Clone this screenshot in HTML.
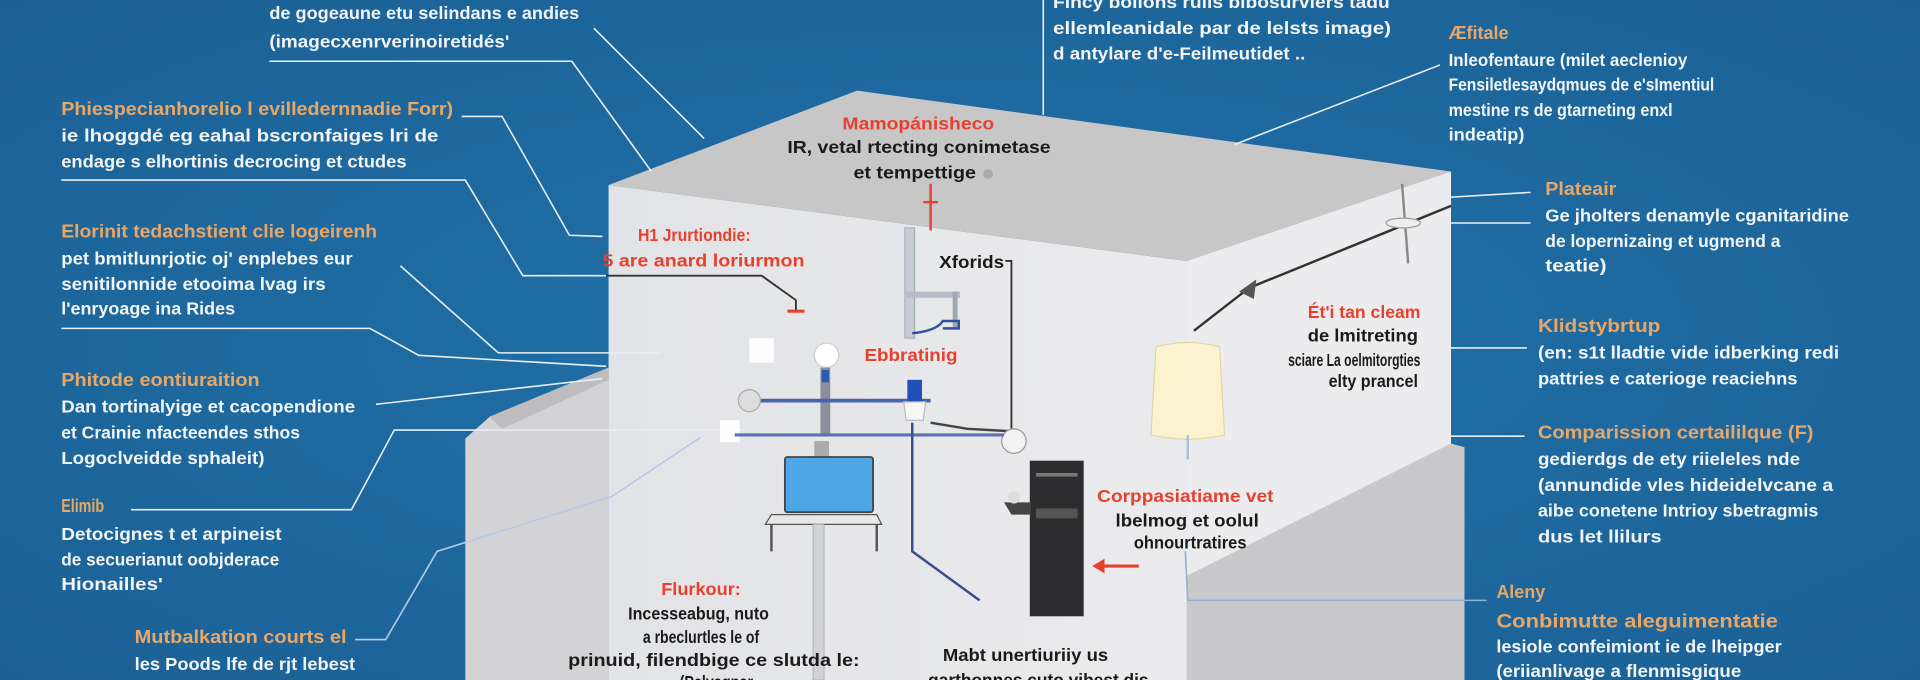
<!DOCTYPE html>
<html><head><meta charset="utf-8"><style>
html,body{margin:0;padding:0;width:1920px;height:680px;overflow:hidden;background:#1e679d}
svg{display:block}
text{font-family:"Liberation Sans",sans-serif;font-weight:bold;dominant-baseline:middle}
.w{fill:#f2f4f6;font-size:14px}
.o{fill:#e9a766;font-size:15px}
.r{fill:#e8402f;font-size:14px}
.k{fill:#1a1a1a;font-size:14px}
.l{stroke:#e8eef4;stroke-width:1.3;fill:none}
</style></head><body>
<svg width="1920" height="680" viewBox="0 0 1568 555" preserveAspectRatio="none" xmlns="http://www.w3.org/2000/svg">
<defs>
<radialGradient id="bg" cx="0.5" cy="0.5" r="0.8"><stop offset="0" stop-color="#2172aa"/><stop offset="1" stop-color="#1a5e92"/></radialGradient>
<linearGradient id="lf" x1="0" y1="0" x2="1" y2="0"><stop offset="0" stop-color="#e2e3e6"/><stop offset="1" stop-color="#ebebed"/></linearGradient>
</defs>
<rect width="1568" height="555" fill="url(#bg)"/>
<!-- box -->
<polygon points="497,151 969,213 969,555 497,555" fill="url(#lf)"/>
<polygon points="497,151 700,74 1185,140 969,213" fill="#c7c7c8"/>
<polygon points="969,213 1185,140 1185,555 969,555" fill="#ececee"/>
<polygon points="969,470 1185,362 1196,365 1196,555 969,555" fill="#c9c9cb"/>
<polygon points="380,358 400,340 497,300 497,555 380,555" fill="#d3d3d5"/>
<polygon points="400,340 497,300 497,310 410,350" fill="#bdbdbf"/>
<!-- connectors -->
<polyline class="l" points="220,50 467,50 532,140"/>
<polyline class="l" points="485,23 575,113"/>
<polyline class="l" points="377,95 410,95 465,192 492,193"/>
<polyline class="l" points="50,147 380,147 427,225 495,225"/>
<polyline points="495,225 622,225 650,245 650,253" stroke="#333" stroke-width="1.5" fill="none"/>
<line x1="643" y1="254" x2="657" y2="254" stroke="#e8402f" stroke-width="2.5"/>
<polyline class="l" points="327,217 407,288 540,288"/>
<polyline class="l" points="50,268 302,268 342,290 495,299"/>
<polyline class="l" points="307,330 492,309"/>
<polyline class="l" points="107,416 287,416 322,351 609,351"/>
<polyline points="290,522 315,522 357,450 500,405 572,357" stroke="#b8c8e8" stroke-width="1.3" fill="none"/>
<polyline class="l" points="852,0 852,94"/>
<polyline class="l" points="1176,53 1008,118"/>
<polyline class="l" points="1184,161 1250,157"/>
<polyline class="l" points="1184,182 1250,182"/>
<polyline class="l" points="1184,284 1247,284"/>
<polyline class="l" points="1184,356 1245,356"/>
<polyline points="968,450 970,490 1214,490" stroke="#8fb2d8" stroke-width="1.3" fill="none"/>
<!-- equipment -->
<line x1="760" y1="150" x2="760" y2="188" stroke="#e8402f" stroke-width="2"/>
<line x1="754" y1="165" x2="766" y2="165" stroke="#e8402f" stroke-width="2"/>
<rect x="739" y="186" width="8" height="90" fill="#c8ccd2" stroke="#9aa" stroke-width="0.8"/>
<rect x="739" y="238" width="45" height="5" fill="#b8bcc4"/>
<rect x="778" y="238" width="4" height="30" fill="#a0a8b0"/>
<path d="M745 272 Q765 270 770 262 L783 262 L783 268 L770 268" stroke="#3050a0" stroke-width="2" fill="none"/>
<polyline points="821,213 826,213 826,350" stroke="#333" stroke-width="1.5" fill="none"/>
<polyline points="760,345 790,350 826,352" stroke="#444" stroke-width="2" fill="none"/>
<circle cx="828" cy="360" r="10" fill="#f2f2f2" stroke="#999"/>
<rect x="612" y="276" width="20" height="20" fill="#fff" opacity="0.9"/>
<rect x="588" y="343" width="16" height="18" fill="#fff" opacity="0.9"/>
<circle cx="675" cy="290" r="10" fill="#fff" stroke="#ccc"/>
<rect x="670" y="300" width="8" height="55" fill="#8a9099"/>
<rect x="671" y="302" width="6" height="10" fill="#2a5ab0"/>
<line x1="608" y1="327" x2="760" y2="327" stroke="#4a66aa" stroke-width="3"/>
<line x1="600" y1="355" x2="820" y2="355" stroke="#5a72b0" stroke-width="2.5"/>
<circle cx="612" cy="327" r="9" fill="#ddd" stroke="#aaa"/>
<rect x="741" y="310" width="12" height="18" fill="#2050b8"/>
<path d="M738 328 L756 328 L754 343 L740 343 Z" fill="#f6f6f6" stroke="#bbb"/>
<polyline points="745,345 745,450 800,490" stroke="#3a4c90" stroke-width="2" fill="none"/>
<rect x="665" y="360" width="12" height="20" fill="#aaa"/>
<rect x="641" y="373" width="72" height="45" rx="2" fill="#4ea6e6" stroke="#444" stroke-width="1.5"/>
<path d="M630 420 L716 420 L720 428 L625 428 Z" fill="#e8e8e8" stroke="#555"/>
<line x1="630" y1="428" x2="630" y2="450" stroke="#555" stroke-width="2"/>
<line x1="716" y1="428" x2="716" y2="450" stroke="#555" stroke-width="2"/>
<rect x="664" y="428" width="9" height="127" fill="#d0d2d6" stroke="#aaa" stroke-width="0.6"/>
<rect x="841" y="376" width="44" height="127" fill="#2d2d2f"/>
<rect x="846" y="386" width="34" height="3" fill="#777"/>
<rect x="846" y="415" width="34" height="8" fill="#555"/>
<path d="M820 410 L842 410 L842 420 L826 420 Z" fill="#444"/>
<circle cx="828" cy="406" r="5" fill="#ddd"/>
<line x1="895" y1="462" x2="930" y2="462" stroke="#e8402f" stroke-width="2.5"/>
<polygon points="892,462 902,456 902,468" fill="#e8402f"/>
<line x1="975" y1="270" x2="1020" y2="235" stroke="#333" stroke-width="2"/>
<line x1="1020" y1="235" x2="1185" y2="168" stroke="#333" stroke-width="2"/>
<polygon points="1012,238 1026,228 1024,244" fill="#555"/>
<line x1="1145" y1="150" x2="1150" y2="215" stroke="#888" stroke-width="2"/>
<ellipse cx="1146" cy="182" rx="14" ry="4" fill="#eee" stroke="#999"/>
<path d="M944 283 Q970 276 996 283 L1000 355 Q970 362 940 355 Z" fill="#fbf3d0" stroke="#e0d6a8"/>
<line x1="970" y1="355" x2="970" y2="375" stroke="#aac0d8" stroke-width="2"/>
<!-- left text -->
<text class="w" x="220" y="12" textLength="253" lengthAdjust="spacingAndGlyphs">de gogeaune etu selindans e andies</text>
<text class="w" x="220" y="35" textLength="196" lengthAdjust="spacingAndGlyphs">(imagecxenrverinoiretidés'</text>
<text class="o" x="50" y="90" textLength="320" lengthAdjust="spacingAndGlyphs">Phiespecianhorelio l evilledernnadie Forr)</text>
<text class="w" x="50" y="112" textLength="308" lengthAdjust="spacingAndGlyphs">ie lhoggdé eg eahal bscronfaiges lri de</text>
<text class="w" x="50" y="133" textLength="282" lengthAdjust="spacingAndGlyphs">endage s elhortinis decrocing et ctudes</text>
<text class="o" x="50" y="190" textLength="258" lengthAdjust="spacingAndGlyphs">Elorinit tedachstient clie logeirenh</text>
<text class="w" x="50" y="212" textLength="238" lengthAdjust="spacingAndGlyphs">pet bmitlunrjotic oj' enplebes eur</text>
<text class="w" x="50" y="233" textLength="216" lengthAdjust="spacingAndGlyphs">senitilonnide etooima lvag irs</text>
<text class="w" x="50" y="253" textLength="142" lengthAdjust="spacingAndGlyphs">l'enryoage ina Rides</text>
<text class="o" x="50" y="311" textLength="162" lengthAdjust="spacingAndGlyphs">Phitode eontiuraition</text>
<text class="w" x="50" y="333" textLength="240" lengthAdjust="spacingAndGlyphs">Dan tortinalyige et cacopendione</text>
<text class="w" x="50" y="354" textLength="195" lengthAdjust="spacingAndGlyphs">et Crainie nfacteendes sthos</text>
<text class="w" x="50" y="375" textLength="166" lengthAdjust="spacingAndGlyphs">Logoclveidde sphaleit)</text>
<text class="o" x="50" y="414" textLength="35" lengthAdjust="spacingAndGlyphs">Elimib</text>
<text class="w" x="50" y="437" textLength="180" lengthAdjust="spacingAndGlyphs">Detocignes t et arpineist</text>
<text class="w" x="50" y="458" textLength="178" lengthAdjust="spacingAndGlyphs">de secuerianut oobjderace</text>
<text class="w" x="50" y="478" textLength="83" lengthAdjust="spacingAndGlyphs">Hionailles'</text>
<text class="o" x="110" y="521" textLength="173" lengthAdjust="spacingAndGlyphs">Mutbalkation courts el</text>
<text class="w" x="110" y="543" textLength="180" lengthAdjust="spacingAndGlyphs">les Poods lfe de rjt lebest</text>
<!-- top center -->
<text class="w" x="860" y="3" textLength="275" lengthAdjust="spacingAndGlyphs">Fincy bollons rulls blbosurviers tadu</text>
<text class="w" x="860" y="24" textLength="276" lengthAdjust="spacingAndGlyphs">ellemleanidale par de lelsts image)</text>
<text class="w" x="860" y="45" textLength="206" lengthAdjust="spacingAndGlyphs">d antylare d'e-Feilmeutidet ..</text>
<!-- right text -->
<text class="o" x="1183" y="28" textLength="49" lengthAdjust="spacingAndGlyphs">Æfitale</text>
<text class="w" x="1183" y="50" textLength="195" lengthAdjust="spacingAndGlyphs">Inleofentaure (milet aeclenioy</text>
<text class="w" x="1183" y="70" textLength="217" lengthAdjust="spacingAndGlyphs">Fensiletlesaydqmues de e'sImentiul</text>
<text class="w" x="1183" y="91" textLength="183" lengthAdjust="spacingAndGlyphs">mestine rs de gtarneting enxl</text>
<text class="w" x="1183" y="111" textLength="62" lengthAdjust="spacingAndGlyphs">indeatip)</text>
<text class="o" x="1262" y="155" textLength="58" lengthAdjust="spacingAndGlyphs">Plateair</text>
<text class="w" x="1262" y="177" textLength="248" lengthAdjust="spacingAndGlyphs">Ge jholters denamyle cganitaridine</text>
<text class="w" x="1262" y="198" textLength="192" lengthAdjust="spacingAndGlyphs">de lopernizaing et ugmend a</text>
<text class="w" x="1262" y="218" textLength="50" lengthAdjust="spacingAndGlyphs">teatie)</text>
<text class="o" x="1256" y="267" textLength="100" lengthAdjust="spacingAndGlyphs">Klidstybrtup</text>
<text class="w" x="1256" y="289" textLength="246" lengthAdjust="spacingAndGlyphs">(en: s1t lladtie vide idberking redi</text>
<text class="w" x="1256" y="310" textLength="212" lengthAdjust="spacingAndGlyphs">pattries e caterioge reaciehns</text>
<text class="o" x="1256" y="354" textLength="225" lengthAdjust="spacingAndGlyphs">Comparission certaililque (F)</text>
<text class="w" x="1256" y="376" textLength="214" lengthAdjust="spacingAndGlyphs">gedierdgs de ety riieleles nde</text>
<text class="w" x="1256" y="397" textLength="241" lengthAdjust="spacingAndGlyphs">(annundide vles hideidelvcane a</text>
<text class="w" x="1256" y="418" textLength="229" lengthAdjust="spacingAndGlyphs">aibe conetene Intrioy sbetragmis</text>
<text class="w" x="1256" y="439" textLength="101" lengthAdjust="spacingAndGlyphs">dus let llilurs</text>
<text class="o" x="1222" y="484" textLength="40" lengthAdjust="spacingAndGlyphs">Aleny</text>
<text class="o" x="1222" y="508" textLength="230" lengthAdjust="spacingAndGlyphs" style="font-size:16px">Conbimutte aleguimentatie</text>
<text class="w" x="1222" y="529" textLength="233" lengthAdjust="spacingAndGlyphs">lesiole confeimiont ie de lheipger</text>
<text class="w" x="1222" y="549" textLength="200" lengthAdjust="spacingAndGlyphs">(eriianlivage a flenmisgique</text>
<!-- inside box -->
<text class="r" x="688" y="102" textLength="124" lengthAdjust="spacingAndGlyphs">Mamopánisheco</text>
<text class="k" x="643" y="121" textLength="215" lengthAdjust="spacingAndGlyphs">IR, vetal rtecting conimetase</text>
<text class="k" x="697" y="142" textLength="100" lengthAdjust="spacingAndGlyphs">et tempettige</text>
<circle cx="807" cy="142" r="4" fill="#aaa"/>
<text class="r" x="521" y="193" textLength="92" lengthAdjust="spacingAndGlyphs">H1 Jrurtiondie:</text>
<text class="r" x="492" y="214" textLength="165" lengthAdjust="spacingAndGlyphs">5 are anard loriurmon</text>
<text class="k" x="767" y="215" textLength="53" lengthAdjust="spacingAndGlyphs">Xforids</text>
<text class="r" x="706" y="291" textLength="76" lengthAdjust="spacingAndGlyphs">Ebbratinig</text>
<text class="r" x="1068" y="256" textLength="92" lengthAdjust="spacingAndGlyphs">Ét'i tan cleam</text>
<text class="k" x="1068" y="275" textLength="90" lengthAdjust="spacingAndGlyphs">de lmitreting</text>
<text class="k" x="1052" y="295" textLength="108" lengthAdjust="spacingAndGlyphs">sciare La oelmitorgties</text>
<text class="k" x="1085" y="312" textLength="73" lengthAdjust="spacingAndGlyphs">elty prancel</text>
<text class="r" x="896" y="406" textLength="144" lengthAdjust="spacingAndGlyphs">Corppasiatiame vet</text>
<text class="k" x="911" y="426" textLength="117" lengthAdjust="spacingAndGlyphs">lbelmog et oolul</text>
<text class="k" x="926" y="444" textLength="92" lengthAdjust="spacingAndGlyphs">ohnourtratires</text>
<text class="r" x="540" y="482" textLength="65" lengthAdjust="spacingAndGlyphs">Flurkour:</text>
<text class="k" x="513" y="502" textLength="115" lengthAdjust="spacingAndGlyphs">Incesseabug, nuto</text>
<text class="k" x="525" y="521" textLength="95" lengthAdjust="spacingAndGlyphs">a rbeclurtles le of</text>
<text class="k" x="464" y="540" textLength="238" lengthAdjust="spacingAndGlyphs">prinuid, filendbige ce slutda le:</text>
<text class="k" x="555" y="558" textLength="60" lengthAdjust="spacingAndGlyphs">(Pelyagnar</text>
<text class="k" x="770" y="536" textLength="135" lengthAdjust="spacingAndGlyphs">Mabt unertiuriiy us</text>
<text class="k" x="758" y="556" textLength="180" lengthAdjust="spacingAndGlyphs">garthonnes cuto vibest dis</text>
</svg>
</body></html>
